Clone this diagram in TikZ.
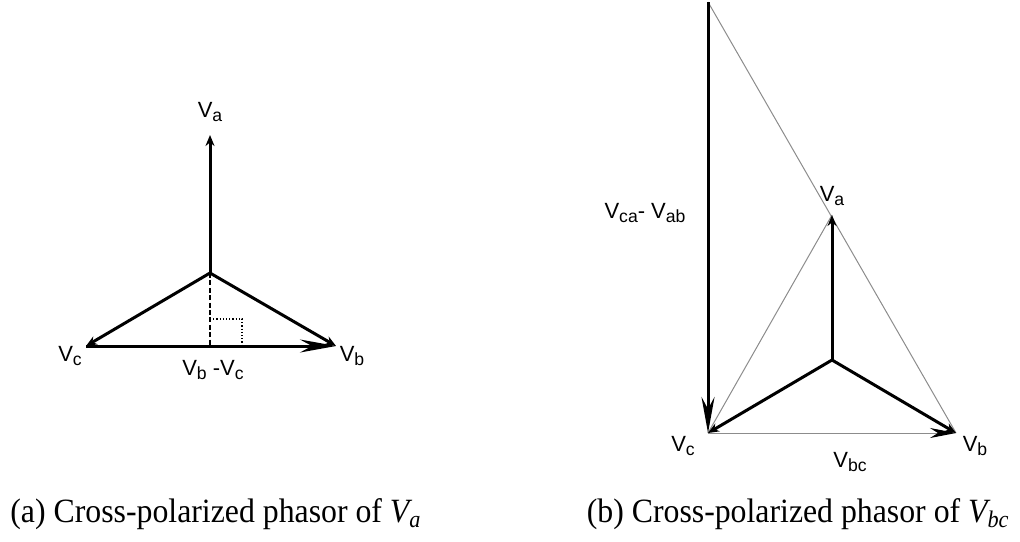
\documentclass[tikz,border=0pt]{standalone}
\usepackage{fontspec}
\setmainfont{Liberation Serif}
\setsansfont{Liberation Sans}
\newfontfamily\capfont[FakeStretch=0.935]{Liberation Serif}
\usetikzlibrary{arrows.meta, positioning}
\newcommand{\lsub}[1]{\raisebox{-0.4ex}{\fontsize{8.8}{10}\selectfont #1}}

\begin{document}
\begin{tikzpicture}[
    x=0.5pt, y=-0.5pt,
    every node/.style={font=\sffamily\fontsize{11}{13}\selectfont, inner sep=1pt},
    phasor/.style={line width=1.5pt, -{Stealth[length=5.5pt, width=4.5pt]}},
    longarr/.style={line width=1.5pt, -{Stealth[length=18pt, width=6.5pt, inset=6pt]}},
    guide/.style={black!45, line width=0.5pt},
    captxt/.style={font=\capfont\fontsize{17}{20}\selectfont, inner sep=0pt}
]
    \useasboundingbox (0,0) rectangle (1020,541);

    % (a) phasor of Va
    \coordinate (O1) at (210,273);
    \coordinate (A1) at (210,135);
    \coordinate (B1) at (336,346);
    \coordinate (C1) at (86,346);
    \coordinate (F1) at (210,346);
    \draw[phasor] (O1) -- (A1);
    \draw[phasor] (O1) -- (B1);
    \draw[phasor] (O1) -- (C1);
    \draw[longarr] (C1) -- (B1);
    \draw[dash pattern=on 2.5pt off 1.2pt, line width=1.1pt] (O1) -- (F1);
    \draw[densely dotted, line width=0.6pt] (210,319) -| (242,346);
    \node (la1) at (210,112) {V\lsub{a}};
    \node (lb1) at (352,356) {V\lsub{b}};
    \node (lc1) at (70,356)  {V\lsub{c}};
    \node (lbc1) at (213,370) {V\lsub{b} -V\lsub{c}};

    % (b) phasor of Vbc
    \coordinate (O2) at (832,360);
    \coordinate (A2) at (832,215);
    \coordinate (B2) at (956,433);
    \coordinate (C2) at (708,433);
    \coordinate (T2) at (708,2);
    \draw[guide] (T2) -- (B2);
    \draw[guide] (C2) -- (A2);
    \draw[guide, -{Stealth[length=13pt, width=5pt, inset=4pt, black]}] (C2) -- (B2);
    \draw[longarr] (T2) -- (C2);
    \draw[phasor] (O2) -- (A2);
    \draw[phasor] (O2) -- (B2);
    \draw[phasor] (O2) -- (C2);
    \node (la2) at (832,196) {V\lsub{a}};
    \node (lb2) at (975,446) {V\lsub{b}};
    \node (lc2) at (683,446) {V\lsub{c}};
    \node (lbc2) at (850,462) {V\lsub{bc}};
    \node (lca2) at (645,213) {V\lsub{ca}- V\lsub{ab}};

    % captions
    \node[captxt, anchor=west] (capa) at (10,514) {(a) Cross-polarized phasor of \textit{V\textsubscript{a}}};
    \node[captxt, anchor=east] (capb) at (1010,514) {(b) Cross-polarized phasor of \textit{V\textsubscript{bc}}};
\end{tikzpicture}
\end{document}
